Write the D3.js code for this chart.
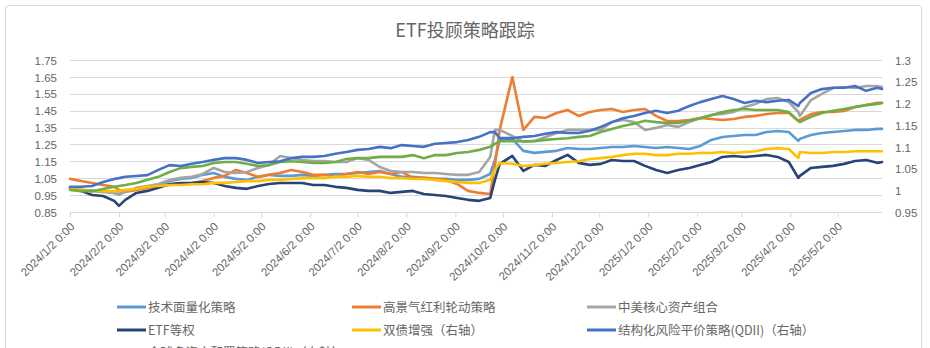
<!DOCTYPE html>
<html>
<head>
<meta charset="utf-8">
<script src="https://cdn.jsdelivr.net/npm/d3@7"></script>
<style>
  html, body { margin: 0; padding: 0; background: #fff; overflow: hidden; }
  svg { display: block; }
  text { fill: #666; }
</style>
</head>
<body>
<svg id="chart" width="930" height="348"></svg>
<script>
// Observation dates (weekly, plus a few key trading days)
const dates = [
  "2024-01-02","2024-01-09","2024-01-16","2024-01-23","2024-01-30",
  "2024-02-02","2024-02-06","2024-02-13","2024-02-20","2024-02-27",
  "2024-03-05","2024-03-12","2024-03-19","2024-03-26",
  "2024-04-02","2024-04-09","2024-04-16","2024-04-23","2024-04-30",
  "2024-05-07","2024-05-14","2024-05-21","2024-05-28",
  "2024-06-04","2024-06-11","2024-06-18","2024-06-25",
  "2024-07-02","2024-07-09","2024-07-16","2024-07-23","2024-07-30",
  "2024-08-06","2024-08-13","2024-08-20","2024-08-27",
  "2024-09-03","2024-09-10","2024-09-17","2024-09-24","2024-09-27","2024-09-30",
  "2024-10-08","2024-10-15","2024-10-22","2024-10-29",
  "2024-11-05","2024-11-12","2024-11-19","2024-11-26",
  "2024-12-03","2024-12-10","2024-12-17","2024-12-24","2024-12-31",
  "2025-01-07","2025-01-14","2025-01-21","2025-01-28",
  "2025-02-04","2025-02-11","2025-02-18","2025-02-25",
  "2025-03-04","2025-03-11","2025-03-18","2025-03-25",
  "2025-04-01","2025-04-07","2025-04-08","2025-04-15","2025-04-22","2025-04-29",
  "2025-05-06","2025-05-13","2025-05-20","2025-05-27","2025-05-30"
];

// 技术面量化策略 (left axis)
const techQuant = [
  0.993,0.981,0.975,0.969,0.963,
  0.957,0.975,0.987,0.999,1.010,
  1.034,1.046,1.052,1.070,
  1.081,1.058,1.046,1.040,1.058,
  1.070,1.064,1.064,1.070,
  1.064,1.070,1.075,1.075,
  1.081,1.087,1.093,1.075,1.058,
  1.058,1.052,1.046,1.046,
  1.040,1.040,1.046,1.075,1.158,1.277,
  1.283,1.212,1.200,1.206,
  1.212,1.229,1.223,1.223,
  1.229,1.235,1.235,1.241,1.235,
  1.229,1.235,1.229,1.223,
  1.241,1.277,1.294,1.300,
  1.306,1.306,1.324,1.330,
  1.324,1.271,1.283,1.306,1.318,1.324,
  1.330,1.336,1.336,1.342,1.342
];

// 高景气红利轮动策略 (left axis)
const dividendRotation = [
  1.046,1.034,1.022,1.010,0.999,
  0.981,0.969,0.981,0.993,1.004,
  1.010,1.016,1.022,1.034,
  1.052,1.064,1.099,1.081,1.058,
  1.070,1.081,1.099,1.087,
  1.070,1.070,1.058,1.075,
  1.087,1.075,1.087,1.075,1.087,
  1.052,1.052,1.046,1.040,
  1.016,0.975,0.963,0.957,1.129,1.336,
  1.649,1.336,1.413,1.407,
  1.436,1.454,1.419,1.442,
  1.454,1.460,1.442,1.454,1.460,
  1.419,1.389,1.389,1.395,
  1.407,1.401,1.395,1.401,
  1.413,1.419,1.430,1.436,
  1.436,1.389,1.395,1.430,1.442,1.442,
  1.448,1.472,1.484,1.496,1.496
];

// 中美核心资产组合 (left axis)
const chinaUsCore = [
  0.993,0.981,0.975,0.975,0.963,
  0.951,0.969,0.993,1.004,1.016,
  1.040,1.052,1.058,1.075,
  1.111,1.087,1.081,1.087,1.111,
  1.129,1.182,1.170,1.158,
  1.152,1.152,1.146,1.146,
  1.170,1.158,1.117,1.093,1.087,
  1.087,1.081,1.081,1.075,
  1.070,1.070,1.087,1.176,1.336,1.336,
  1.300,1.265,1.271,1.294,
  1.318,1.336,1.336,1.336,
  1.336,1.383,1.395,1.383,1.336,
  1.348,1.365,1.354,1.383,
  1.407,1.425,1.430,1.442,
  1.472,1.490,1.519,1.525,
  1.501,1.442,1.419,1.513,1.549,1.584,
  1.590,1.584,1.596,1.596,1.590
];

// ETF等权 (left axis)
const etfEqual = [
  0.993,0.975,0.951,0.945,0.916,
  0.886,0.922,0.963,0.975,0.993,
  1.016,1.022,1.022,1.028,
  1.022,1.004,0.993,0.987,1.004,
  1.016,1.022,1.022,1.022,
  1.010,1.010,0.999,0.993,
  0.981,0.975,0.975,0.963,0.969,
  0.975,0.957,0.951,0.945,
  0.933,0.922,0.916,0.933,1.040,1.135,
  1.182,1.093,1.129,1.123,
  1.158,1.188,1.141,1.129,
  1.135,1.158,1.152,1.152,1.123,
  1.099,1.081,1.099,1.111,
  1.129,1.146,1.176,1.182,
  1.176,1.182,1.188,1.176,
  1.146,1.052,1.064,1.111,1.117,1.123,
  1.135,1.152,1.158,1.141,1.146
];

// 双债增强 (right axis)
const dualBond = [
  1.003,1.001,0.998,0.998,0.998,
  0.998,1.001,1.003,1.008,1.010,
  1.012,1.012,1.014,1.014,
  1.017,1.017,1.019,1.021,1.021,
  1.024,1.024,1.026,1.028,
  1.028,1.028,1.031,1.031,
  1.033,1.031,1.031,1.028,1.028,
  1.026,1.026,1.024,1.021,
  1.019,1.017,1.017,1.024,1.047,1.063,
  1.061,1.056,1.058,1.061,
  1.063,1.065,1.067,1.072,
  1.074,1.077,1.081,1.084,1.084,
  1.081,1.081,1.084,1.084,
  1.086,1.086,1.088,1.086,
  1.088,1.090,1.095,1.097,
  1.095,1.074,1.088,1.086,1.086,1.088,
  1.088,1.090,1.090,1.090,1.090
];

// 结构化风险平价策略(QDII) (right axis)
const riskParity = [
  1.008,1.008,1.010,1.019,1.026,
  1.028,1.031,1.033,1.035,1.047,
  1.058,1.056,1.061,1.065,
  1.070,1.074,1.074,1.070,1.063,
  1.065,1.067,1.074,1.077,
  1.077,1.079,1.084,1.088,
  1.093,1.095,1.100,1.097,1.104,
  1.102,1.100,1.107,1.109,
  1.111,1.116,1.123,1.134,1.134,1.120,
  1.120,1.123,1.125,1.130,
  1.134,1.132,1.132,1.137,
  1.146,1.157,1.166,1.171,1.178,
  1.183,1.178,1.183,1.194,
  1.203,1.210,1.217,1.210,
  1.201,1.206,1.203,1.206,
  1.208,1.194,1.201,1.224,1.233,1.236,
  1.236,1.240,1.229,1.236,1.233
];

// 全球多资产配置策略(QDII) (right axis)
const globalMulti = [
  1.001,0.998,0.998,1.003,1.008,
  1.010,1.012,1.017,1.024,1.031,
  1.042,1.051,1.054,1.056,
  1.063,1.065,1.065,1.061,1.056,
  1.058,1.065,1.067,1.065,
  1.063,1.063,1.065,1.072,
  1.074,1.074,1.077,1.077,1.077,
  1.081,1.074,1.081,1.081,
  1.086,1.088,1.093,1.100,1.107,1.113,
  1.113,1.113,1.113,1.116,
  1.118,1.120,1.123,1.125,
  1.134,1.141,1.148,1.153,1.160,
  1.157,1.155,1.155,1.160,
  1.166,1.173,1.180,1.185,
  1.187,1.185,1.185,1.185,
  1.180,1.160,1.157,1.169,1.178,1.183,
  1.187,1.192,1.196,1.199,1.201
];

const leftTicks = [0.85, 0.95, 1.05, 1.15, 1.25, 1.35, 1.45, 1.55, 1.65, 1.75];
const rightTicks = [0.95, 1.0, 1.05, 1.1, 1.15, 1.2, 1.25, 1.3];
const titleText = "ETF投顾策略跟踪";

// Series in legend order; primary-axis lines are drawn first
const series = [
  { name: "技术面量化策略", values: techQuant, color: "#5B9BD5", axis: "left" },
  { name: "高景气红利轮动策略", values: dividendRotation, color: "#ED7D31", axis: "left" },
  { name: "中美核心资产组合", values: chinaUsCore, color: "#A5A5A5", axis: "left" },
  { name: "ETF等权", values: etfEqual, color: "#264478", axis: "left" },
  { name: "双债增强（右轴）", values: dualBond, color: "#FFC000", axis: "right" },
  { name: "结构化风险平价策略(QDII)（右轴）", values: riskParity, color: "#4472C4", axis: "right" },
  { name: "全球多资产配置策略(QDII)（右轴）", values: globalMulti, color: "#70AD47", axis: "right" }
];

const parse = d3.timeParse("%Y-%m-%d");
const dateObjs = dates.map(parse);

const plot = { left: 70, right: 882, top: 60, bottom: 212 };
const svg = d3.select("#chart");
const cjk = '"Noto Sans CJK SC", "Microsoft YaHei", sans-serif';
const num = '"Liberation Sans", Arial, sans-serif';

// Frame
svg.append("rect")
  .attr("x", 5.5).attr("y", 5.5)
  .attr("width", 916).attr("height", 370)
  .attr("rx", 3)
  .attr("fill", "#fff")
  .attr("stroke", "#d9d9d9");

// Title
svg.append("text")
  .attr("x", 465).attr("y", 37)
  .attr("text-anchor", "middle")
  .style("font-family", cjk)
  .style("font-size", "18px")
  .text(titleText);

const x = d3.scaleTime()
  .domain([dateObjs[0], dateObjs[dateObjs.length - 1]])
  .range([plot.left, plot.right]);
const yL = d3.scaleLinear().domain([0.85, 1.75]).range([plot.bottom, plot.top]);
const yR = d3.scaleLinear().domain([0.95, 1.3]).range([plot.bottom, plot.top]);

// Horizontal gridlines
svg.append("g")
  .selectAll("line")
  .data(leftTicks)
  .join("line")
  .attr("x1", plot.left).attr("x2", plot.right)
  .attr("y1", d => Math.round(yL(d)) + 0.5)
  .attr("y2", d => Math.round(yL(d)) + 0.5)
  .attr("stroke", "#d9d9d9")
  .attr("stroke-width", 1);

// Left axis labels
const gL = svg.append("g")
  .attr("transform", `translate(${plot.left},0.5)`)
  .call(d3.axisLeft(yL).tickValues(leftTicks).tickFormat(d3.format(".2f")).tickSize(0).tickPadding(13));
gL.select(".domain").remove();
gL.selectAll("text").style("font-family", num).style("font-size", "11.5px").attr("fill", "#666");

// Right axis labels
const gR = svg.append("g")
  .attr("transform", `translate(${plot.right},0.5)`)
  .call(d3.axisRight(yR).tickValues(rightTicks).tickFormat(d => String(+d.toFixed(2))).tickSize(0).tickPadding(13));
gR.select(".domain").remove();
gR.selectAll("text").style("font-family", num).style("font-size", "11.5px").attr("fill", "#666");

// Bottom axis: monthly ticks on the 2nd
const monthTicks = d3.range(17).map(i => new Date(2024, i, 2));
const fmt = d => `${d.getFullYear()}/${d.getMonth() + 1}/${d.getDate()} 0:00`;
const gX = svg.append("g")
  .attr("transform", `translate(0,${plot.bottom + 0.5})`)
  .call(d3.axisBottom(x).tickValues(monthTicks).tickFormat(fmt).tickSize(5));
gX.select(".domain").remove();
gX.selectAll(".tick line").attr("stroke", "#d9d9d9");
gX.selectAll(".tick text")
  .attr("y", 0).attr("dy", "0.35em")
  .attr("text-anchor", "end")
  .attr("transform", "translate(2,12) rotate(-45)")
  .style("font-family", num)
  .style("font-size", "11.5px")
  .attr("fill", "#666");

// Lines
const lineFor = s => d3.line()
  .x((d, i) => x(dateObjs[i]))
  .y(d => (s.axis === "left" ? yL : yR)(d))
  .curve(d3.curveLinear);

const drawOrder = [0, 1, 2, 3, 4, 6, 5];
svg.append("g")
  .selectAll("path")
  .data(drawOrder.map(i => series[i]))
  .join("path")
  .attr("d", s => lineFor(s)(s.values))
  .attr("fill", "none")
  .attr("stroke", s => s.color)
  .attr("stroke-width", 2.6)
  .attr("stroke-linejoin", "round")
  .attr("stroke-linecap", "round");

// Legend (third row runs past the bottom edge of the frame)
const legCols = [117, 352, 587];
const legRows = [307, 330, 352];
const leg = svg.append("g")
  .selectAll("g")
  .data(series)
  .join("g")
  .attr("transform", (d, i) => `translate(${legCols[i % 3]},${legRows[Math.floor(i / 3)]})`);
leg.append("line")
  .attr("x1", 0).attr("x2", 29)
  .attr("stroke", d => d.color)
  .attr("stroke-width", 3);
leg.append("text")
  .attr("x", 31).attr("dy", "0.36em")
  .style("font-family", cjk)
  .style("font-size", "12.5px")
  .text(d => d.name);
</script>
</body>
</html>
